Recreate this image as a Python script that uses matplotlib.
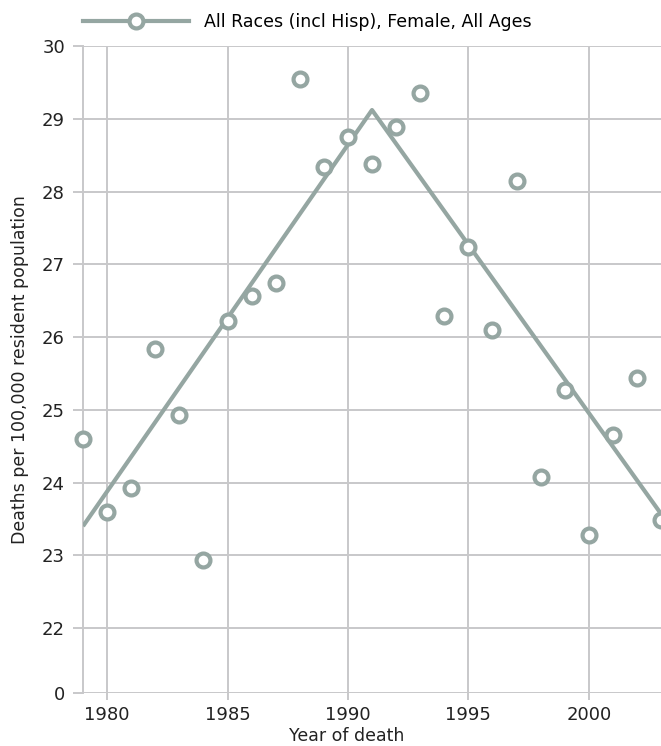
import matplotlib.pyplot as plt
from matplotlib.lines import Line2D

years = list(range(1979, 2004))
rates = [24.60, 23.59, 23.93, 25.84, 24.93, 22.93, 26.22, 26.56, 26.74, 29.55,
         28.34, 28.75, 28.38, 28.89, 29.35, 26.29, 27.24, 26.09, 28.15, 24.08,
         25.27, 23.28, 24.66, 25.44, 23.48]
trend_years = [1979, 1991, 2003]
trend_vals = [23.40, 29.12, 23.57]

# broken y axis: "0" sits a bit below 22
zero_pos = 21.107
ytick_pos = [zero_pos, 22, 23, 24, 25, 26, 27, 28, 29, 30]
ytick_labels = ["0", "22", "23", "24", "25", "26", "27", "28", "29", "30"]
xticks = [1980, 1985, 1990, 1995, 2000]

color = "#95a6a2"
grid = "#c8c8ca"
txt = "#222222"

fig = plt.figure(figsize=(6.61, 7.46), dpi=100)
ax = fig.add_axes([83 / 661, 1 - 693 / 746, 578 / 661, (693 - 46) / 746])

ax.plot(trend_years, trend_vals, color=color, lw=3.0, solid_capstyle="butt", zorder=3)
ax.plot(years, rates, ls="none", marker="o", ms=10, mew=3.0, mec=color, mfc="white",
        clip_on=False, zorder=4)

ax.set_xlim(1979, 2003)
ax.set_ylim(zero_pos, 30)
ax.set_yticks(ytick_pos)
ax.set_yticklabels(ytick_labels)
ax.set_xticks(xticks)
ax.grid(True, color=grid, lw=1.4)
ax.set_axisbelow(True)
for s in ["top", "right", "bottom"]:
    ax.spines[s].set_visible(False)
ax.spines["left"].set_color(grid)
ax.spines["left"].set_linewidth(1.4)
ax.tick_params(axis="both", colors=grid, width=1.4, labelcolor=txt, labelsize=13)
ax.tick_params(axis="y", length=7, pad=6)
ax.tick_params(axis="x", length=5, pad=4)

ax.set_xlabel("Year of death", fontsize=12.5, color=txt)
ax.xaxis.set_label_coords((347 - 83) / 578, -0.052)
ax.set_ylabel("Deaths per 100,000 resident population", fontsize=12.5, color=txt)
ax.yaxis.set_label_coords(-0.093, 0.5)

handle = Line2D([], [], color=color, lw=3.0, marker="o", ms=10, mew=3.0, mec=color, mfc="white")
fig.legend([handle], ["All Races (incl Hisp), Female, All Ages"], loc="center left",
           bbox_to_anchor=(83 / 661, 1 - 22 / 746), frameon=False, fontsize=12.5,
           handlelength=6.1, handletextpad=0.85, borderaxespad=0, borderpad=0)

fig.savefig("out.png", dpi=100)
